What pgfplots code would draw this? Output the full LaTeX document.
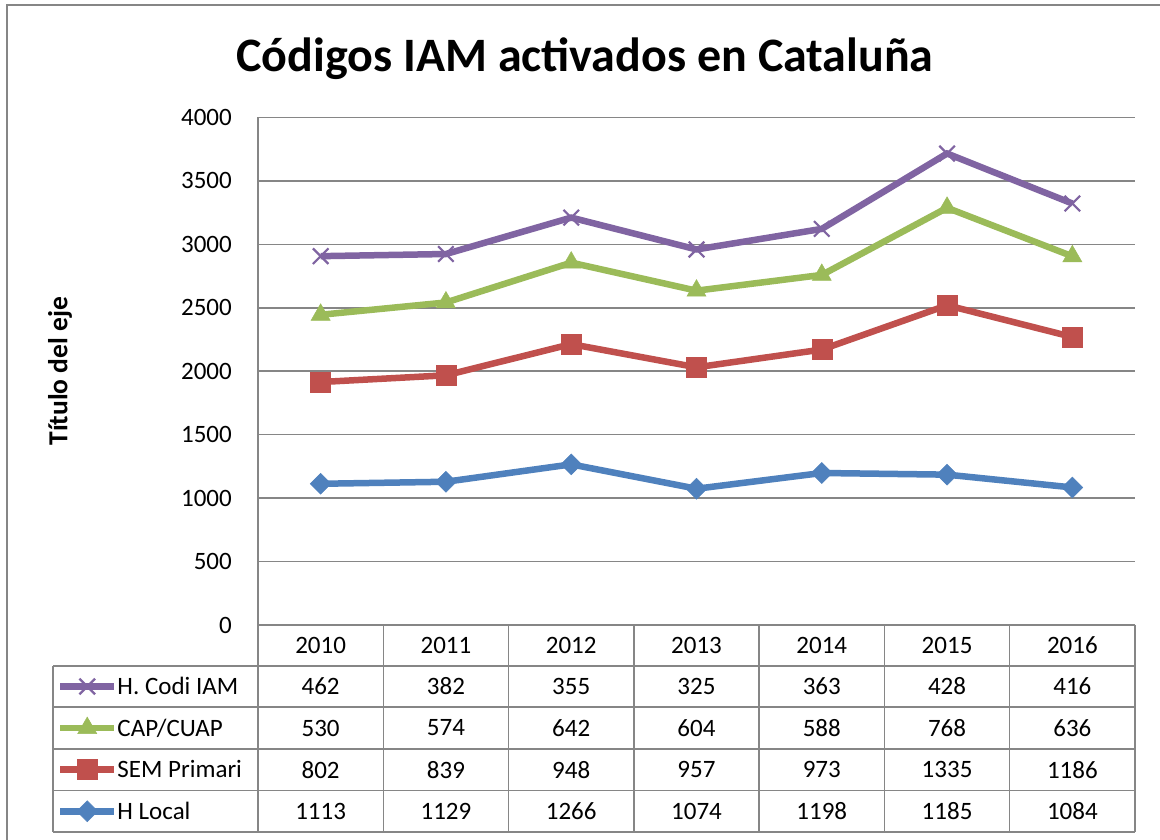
\documentclass[border=0pt]{standalone}
\usepackage{fontspec}
\setmainfont{Carlito}
\usepackage{pgfplots}
\usepackage{pgfplotstable}
\pgfplotsset{compat=1.18}
\definecolor{cpurple}{RGB}{128,100,162}
\definecolor{cgreen}{RGB}{155,187,89}
\definecolor{cred}{RGB}{192,80,77}
\definecolor{cblue}{RGB}{79,129,189}
\definecolor{cgrid}{RGB}{134,134,134}

\pgfplotstableread{
x year hlocal sem cap codi
0 2010 1113 802 530 462
1 2011 1129 839 574 382
2 2012 1266 948 642 355
3 2013 1074 957 604 325
4 2014 1198 973 588 363
5 2015 1185 1335 768 428
6 2016 1084 1186 636 416
}\datatable

\newcommand{\tf}{\fontsize{25}{30}\selectfont}

\begin{document}
\begin{tikzpicture}[x=1pt,y=1pt]
\useasboundingbox (0,0) rectangle (1160,840);
\fill[white] (0,0) rectangle (1160,840);
\draw[cgrid, line width=1.5pt] (7,835) rectangle (1180,-20);
\node[font=\bfseries\fontsize{48}{54}\selectfont, anchor=base] at (585,768) {Códigos IAM activados en Cataluña};
\begin{axis}[
  at={(258pt,215pt)}, anchor=south west,
  width=877pt, height=507.5pt, scale only axis,
  xmin=-0.5, xmax=6.5, ymin=0, ymax=4000,
  ytick={0,500,...,4000},
  xtick={0,...,6},
  xticklabels={2010,2011,2012,2013,2014,2015,2016},
  xticklabel style={font=\tf, anchor=center, yshift=-20.5pt, inner sep=0pt},
  yticklabel style={font=\tf, anchor=east, inner sep=0pt, xshift=-26pt},
  /pgf/number format/assume math mode=true,
  /pgf/number format/1000 sep={},
  major tick length=0pt,
  axis x line*=bottom, axis y line*=left,
  axis line style={draw=cgrid, line width=1.5pt, -},
  ymajorgrids, major grid style={draw=cgrid, line width=1.5pt},
  ylabel={Título del eje},
  every axis y label/.style={at={(axis description cs:-0.2258,0.5)}, rotate=90, anchor=center, font=\bfseries\fontsize{27.5}{32}\selectfont},
  stack plots=y,
  clip=false,
  reverse legend,
  legend image code/.code={\path[draw=none, fill=none] (0pt,-19pt) rectangle (54pt,19pt);
    \draw[mark repeat=2,mark phase=2] plot coordinates {(0pt,0pt)(27pt,0pt)(54pt,0pt)};},
  legend style={draw=none, fill=none, inner sep=0pt, outer sep=0pt,
    at={(axis description cs:-0.2292,-0.0837)}, anchor=north west,
    font=\tf, row sep=3.6pt,
    nodes={inner sep=0pt, text height=21pt, text depth=5pt},
    /tikz/every even column/.append style={column sep=6pt}},
  legend cell align=left,
]
\addplot[cblue, line width=6.5pt, mark=square*, mark size=7.4pt, mark options={rotate=45, line width=0.5pt}] table[x=x, y=hlocal] {\datatable};
\addlegendentry{H Local}
\addplot[cred, line width=6.5pt, mark=square*, mark size=10pt, mark options={line width=0.5pt}] table[x=x, y=sem] {\datatable};
\addlegendentry{SEM Primari}
\addplot[cgreen, line width=6.5pt, mark=triangle*, mark size=11pt, mark options={line width=0.5pt}] table[x=x, y=cap] {\datatable};
\addlegendentry{CAP/CUAP}
\addplot[cpurple, line width=6.5pt, mark=x, mark size=11pt, mark options={line width=2.2pt}] table[x=x, y=codi] {\datatable};
\addlegendentry{H. Codi IAM}
\end{axis}
% table grid
\begin{scope}[cgrid, line width=1.5pt]
\foreach \yy in {174,133,91,49.5,8} \draw (53,\yy) -- (1135,\yy);
\draw (53,174) -- (53,8);
\foreach \xx in {258,383.29,508.57,633.86,759.14,884.43,1009.71,1135} \draw (\xx,215) -- (\xx,8);
\end{scope}
% table values
\begin{scope}[every node/.style={font=\tf, anchor=center, inner sep=0pt}]
\foreach \v [count=\i from 0] in {462,382,355,325,363,428,416} \node at (320.64+125.286*\i,153.5) {\v};
\foreach \v [count=\i from 0] in {530,574,642,604,588,768,636} \node at (320.64+125.286*\i,112) {\v};
\foreach \v [count=\i from 0] in {802,839,948,957,973,1335,1186} \node at (320.64+125.286*\i,70.25) {\v};
\foreach \v [count=\i from 0] in {1113,1129,1266,1074,1198,1185,1084} \node at (320.64+125.286*\i,28.75) {\v};
\end{scope}
\end{tikzpicture}
\end{document}
